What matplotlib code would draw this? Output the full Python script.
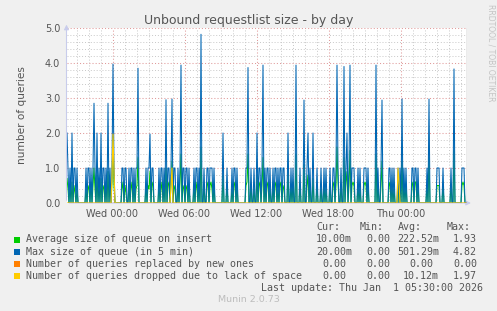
import matplotlib
matplotlib.use('Agg')
import matplotlib.pyplot as plt
import numpy as np

# 5-minute samples from Tue 20:10 to Thu 05:30 (400 samples), hours relative to Wed 00:00
t_start = -46 / 12
t_end = 29.5

max_queue_txt = """
2 1 0 1 0 2 0 1 1 0 1 0 0 0 0 0 0 0 0 1
0 1 1 0 1 0 1 2.85 1 0 2 0 1 0 2 0 1 1 0 1
0 2.85 0 1 0 1 3.97 1 0 0 0 0 0 0 0 1 1 0 1 1
0 0 1 0 1 1 0 1 0 1 1 3.85 0 0 0 0 0 0 0 1
0 1 1 1.97 0 1 1 0 0 0 0 0 1 0 1 1 0 1 0 2.95
0 1 1 0 1 2.97 0 1 1 0 0 1 0 1 3.94 0 1 1 0 1
1 0 1 0 0 0 0 1 0 1 1 0 1 0 4.82 0 0 1 0 0
1 1 0 1 1 1 0 1 0 0 0 0 0 0 0 0 2 0 0 0
1 0 0 0 0 1 0 1 1 0 1 0 0 0 0 0 0 0 0 1
1 3.87 0 0 1 0 0 1 0 0 2 0 1 1 0 1 3.94 0 1 0
1 1 0 1 0 0 1 0 1 1 0 1 0 1 1 0 1 1 0 0
0 2 0 0 1 0 1 0 0 3.94 0 0 0 1 0 0 0 2.94 0 0
1 2 0 1 0 0 2 0 0 0 1 0 0 0 1 0 0 1 0 1
0 0 0 1 0 0 1 1 0 1 3.94 1 0 0 1 0 0 3.9 0 1
2 0 1 3.94 0 1 1 1 0 0 0 1 0 1 0 0 0 1 1 1
0 1 0 0 0 0 0 0 0 3.94 0 1 0 0 1 2.94 0 0 0 0
0 0 1 1 0 1 0 1 0 0 0 1 0 1 0 2.97 0 1 0 1
0 0 0 0 0 1 1 0 1 1 0 1 0 0 0 0 0 0 0 0
1 0 2.97 0 0 0 0 0 0 0 1 1 1 0 0 0 1 0 0 0
0 0 0 0 1 0 0 3.83 0 0 0 0 0 0 0 1 1 1 0 0
"""

# average size of queue on insert, in tenths
avg_queue_tenths_txt = """
7 4 0 5 0 6 0 5 3 0 4 0 0 0 0 0 0 0 0 4
0 5 4 0 6 0 5 10 4 0 8 0 5 0 7 0 4 5 0 6
0 9 0 5 0 6 19 5 0 0 0 0 0 0 0 4 6 0 5 3
0 0 5 0 4 6 0 5 0 4 5 13 0 0 0 0 0 0 0 5
0 5 4 9 0 6 5 0 0 0 0 0 5 0 4 6 0 5 0 10
0 5 6 0 5 12 0 4 5 0 0 5 0 6 14 0 5 4 0 5
4 0 5 0 0 0 0 5 0 6 4 0 5 0 16 0 0 5 0 0
5 6 0 5 6 4 0 5 0 0 0 0 0 0 0 0 8 0 0 0
5 0 0 0 0 4 0 5 6 0 5 0 0 0 0 0 0 0 0 5
6 14 0 0 5 0 0 4 0 0 8 0 5 6 0 5 13 0 5 0
5 6 0 4 0 0 5 0 6 5 0 4 0 5 6 0 5 4 0 0
0 9 0 0 5 0 6 0 0 14 0 0 0 5 0 0 0 11 0 0
5 8 0 5 0 0 7 0 0 0 5 0 0 0 4 0 0 5 0 4
0 0 0 5 0 0 5 6 0 5 16 6 0 0 5 0 0 13 0 6
9 0 5 15 0 5 6 5 0 0 0 5 0 4 0 0 0 5 6 5
0 5 0 0 0 0 0 0 0 14 0 5 0 0 5 12 0 0 0 0
0 0 5 6 0 5 0 4 0 0 0 5 0 5 0 12 0 5 0 5
0 0 0 0 0 5 6 0 6 6 0 5 0 0 0 0 0 0 0 0
5 0 13 0 0 0 0 0 0 0 5 5 5 0 0 0 5 0 0 0
0 0 0 0 5 0 0 15 0 0 0 0 0 0 0 5 6 5 0 0
"""

# queries dropped: only a few non-zero samples
dropped_idx = [45, 46, 47, 104, 105, 331, 332]
dropped_val = [0.8, 1.97, 0.9, 0.5, 1.0, 1.0, 0.6]

tick_hours = [0, 6, 12, 18, 24]
tick_labels = ["Wed 00:00", "Wed 06:00", "Wed 12:00", "Wed 18:00", "Thu 00:00"]

legend_rows = [
    ("Average size of queue on insert", "#00CC00", "10.00m", "0.00", "222.52m", "1.93"),
    ("Max size of queue (in 5 min)", "#0066B3", "20.00m", "0.00", "501.29m", "4.82"),
    ("Number of queries replaced by new ones", "#FF8000", "0.00", "0.00", "0.00", "0.00"),
    ("Number of queries dropped due to lack of space", "#FFCC00", "0.00", "0.00", "10.12m", "1.97"),
]

max_queue = np.array([float(v) for v in max_queue_txt.split()])
avg_queue = np.array([float(v) for v in avg_queue_tenths_txt.split()]) / 10
dropped = np.zeros(len(max_queue))
dropped[dropped_idx] = dropped_val
replaced = np.zeros(len(max_queue))
t = t_start + (np.arange(len(max_queue)) + 0.5) / 12

W, H = 497, 311
def fx(px):
    return px / W
def fy(py):
    return 1 - py / H

fig = plt.figure(figsize=(W / 100, H / 100), dpi=100)
fig.patch.set_facecolor('#F0F0F0')
ax = fig.add_axes([fx(66.5), fy(203), 400 / W, 175 / H])
ax.set_facecolor('white')

txt = '#555555'
ax.set_xlim(t_start, t_end)
ax.set_ylim(0, 5)
ax.set_xticks(tick_hours)
ax.set_xticklabels(tick_labels)
ax.set_xticks([h for h in range(-3, 30) if h % 6 != 0], minor=True)
ax.set_yticks([0, 1, 2, 3, 4, 5])
ax.set_yticklabels(["0.0", "1.0", "2.0", "3.0", "4.0", "5.0"])
ax.set_yticks([k / 5 for k in range(26) if k % 5 != 0], minor=True)
ax.tick_params(axis='both', which='both', length=0, colors=txt, labelsize=7)
ax.tick_params(axis='x', pad=4.5)
ax.tick_params(axis='y', pad=4.5)
ax.grid(which='minor', color='#C8C8C8', linestyle=(0, (1, 2)), linewidth=0.7)
ax.grid(which='major', color='#E09A9A', linestyle=(0, (1, 2)), linewidth=0.75)
ax.set_axisbelow(True)
for s in ax.spines.values():
    s.set_visible(False)

ax.plot(t, avg_queue, color='#00CC00', linewidth=0.75, zorder=3)
ax.plot(t, max_queue, color='#0066B3', linewidth=0.75, zorder=4)
ax.plot(t, replaced, color='#FF8000', linewidth=0.8, zorder=5)
ax.plot(t, dropped, color='#FFCC00', linewidth=0.8, zorder=6)

# right border and axis arrows
ax.axvline(t_end, color='#9A9A9A', linewidth=1.0, zorder=7)
ax.annotate('', xy=(0, 1.035), xytext=(0, 0), xycoords='axes fraction',
            arrowprops=dict(arrowstyle='-|>', color='#C8CCEC', lw=0.8, mutation_scale=7),
            annotation_clip=False)
ax.annotate('', xy=(1.018, 0), xytext=(0, 0), xycoords='axes fraction',
            arrowprops=dict(arrowstyle='-|>', color='#C8CCEC', lw=0.8, mutation_scale=7),
            annotation_clip=False)

fig.text(0.5, fy(24), "Unbound requestlist size - by day", ha='center', va='baseline',
         fontsize=9, color=txt)
ax.set_ylabel("number of queries", fontsize=7.6, color=txt, labelpad=13)
fig.text(fx(491), fy(4), "RRDTOOL / TOBI OETIKER", rotation=270, ha='center', va='top',
         fontsize=5.5, color='#C4C4C4')

mono = 'DejaVu Sans Mono'
fs = 7.2
fig.text(fx(316), fy(227), "Cur:", fontsize=fs, family=mono, color=txt, va='center')
fig.text(fx(360), fy(227), "Min:", fontsize=fs, family=mono, color=txt, va='center')
fig.text(fx(398), fy(227), "Avg:", fontsize=fs, family=mono, color=txt, va='center')
fig.text(fx(447), fy(227), "Max:", fontsize=fs, family=mono, color=txt, va='center')

col_right = [352, 396, 439, 483]
for i, (label, color, *vals) in enumerate(legend_rows):
    y = 239.5 + i * 12.1
    fig.patches.append(plt.Rectangle((fx(14), fy(y + 3)), 6 / W, 6 / H, transform=fig.transFigure,
                                     facecolor=color, edgecolor='none'))
    fig.text(fx(26), fy(y), label, fontsize=fs, family=mono, color=txt, va='center')
    for v, xr in zip(vals, col_right):
        xr_num = xr if v.endswith('m') else xr - 6
        fig.text(fx(xr_num), fy(y), v, fontsize=fs, family=mono, color=txt, va='center', ha='right')

fig.text(fx(483), fy(287.7), "Last update: Thu Jan  1 05:30:00 2026", fontsize=fs, family=mono,
         color=txt, va='center', ha='right')
fig.text(0.5, fy(299.5), "Munin 2.0.73", fontsize=6.8, color='#BDBDBD', va='center', ha='center')

fig.savefig('out.png', dpi=100, facecolor=fig.get_facecolor())
